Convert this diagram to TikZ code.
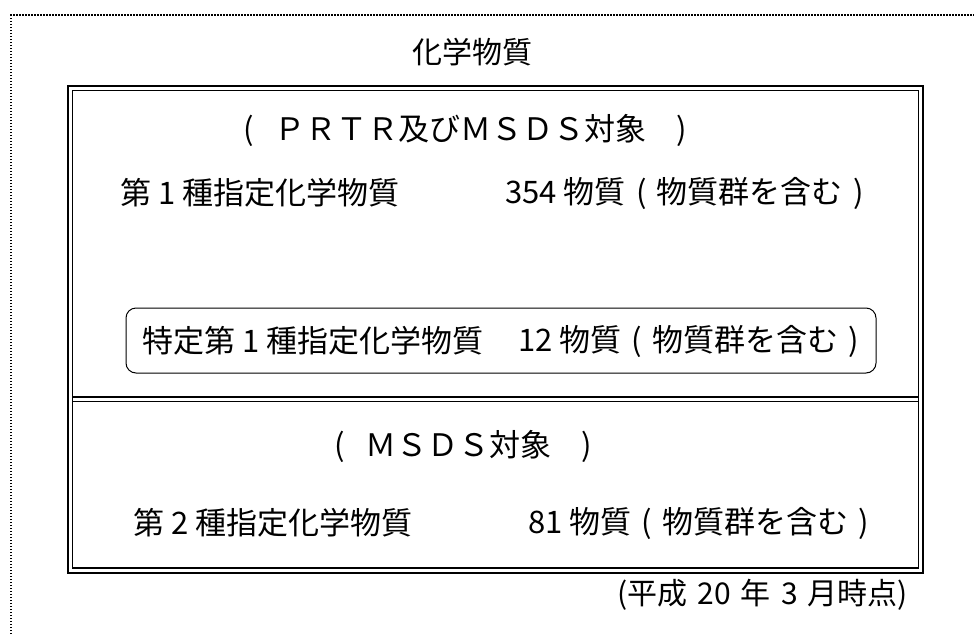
\documentclass[tikz,border=0pt]{standalone}
\usepackage{fontspec}
\setmainfont{Noto Sans CJK JP}
\newcommand\jlp{\makebox[1em]{(}}
\newcommand\jrp{\makebox[1em]{)}}
\newcommand\hlp{\makebox[1em][l]{(}}
\newcommand\hrp{\makebox[1.3em][r]{)}}
\newcommand\wsp{\hspace{10pt}}
\begin{document}
\begin{tikzpicture}[x=1pt,y=-1pt,
  txt/.style={font=\fontsize{31}{36}\selectfont, inner sep=0pt},
  ttl/.style={font=\fontsize{30}{36}\selectfont, inner sep=0pt},
  small/.style={font=\fontsize{30}{34}\selectfont, inner sep=0pt},
  tokbox/.style={draw, rounded corners=10pt, line width=1pt, minimum width=750pt, minimum height=65pt, inner sep=0pt}]
\useasboundingbox (0,0) rectangle (974,635);
\clip (0,0) rectangle (974,635);
% dotted frame (only top and left visible)
\draw[line width=1.5pt, dash pattern=on 1.5pt off 1.5pt] (11,700) -- (11,15) -- (1000,15);
% double frame
\draw[line width=2pt] (68,86) rectangle (923,573);
\draw[line width=1.5pt] (72.5,90.5) rectangle (918.5,568);
% double divider
\draw[line width=2pt] (72.5,397) -- (918.5,397);
\draw[line width=1pt] (72.5,401.5) -- (918.5,401.5);
% texts
\node[ttl] (title) at (472,52) {化学物質};
\node[txt] (prtr) at (465,130) {\hlp ＰＲＴＲ及びＭＳＤＳ対象\hrp};
\node[txt, anchor=west] (c1) at (120,193) {第 1 種指定化学物質};
\node[txt, anchor=west] (n1) at (505,193) {354 物質\jlp 物質群を含む\jrp};
\node[tokbox] (tbox) at (501,340.5) {};
\node[txt, anchor=west] (t1) at (142,341) {特定第 1 種指定化学物質};
\node[txt, anchor=west] (tn) at (518,341) {12 物質\jlp 物質群を含む\jrp};
\node[txt] (msds) at (463,446) {\hlp ＭＳＤＳ対象\hrp};
\node[txt, anchor=west] (c2) at (133,523) {第 2 種指定化学物質};
\node[txt, anchor=west] (n2) at (528,523) {81 物質\jlp 物質群を含む\jrp};
\node[small, anchor=east] (date) at (908,595) {(平成\wsp 20\wsp 年\wsp 3\wsp 月時点)};
\end{tikzpicture}
\end{document}
